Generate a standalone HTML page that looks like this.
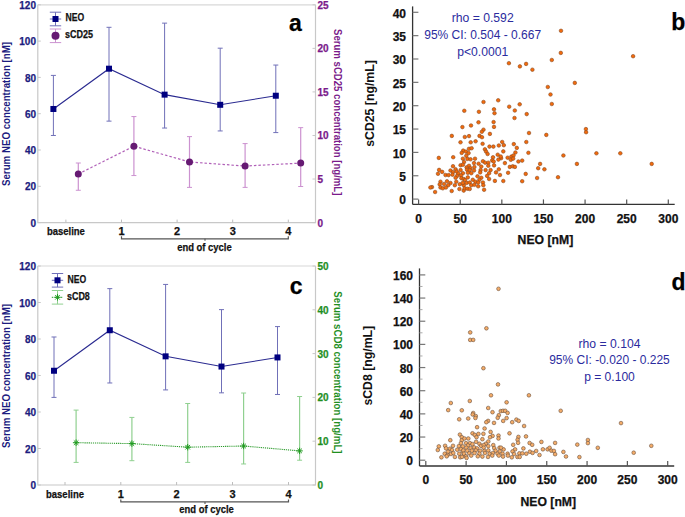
<!DOCTYPE html><html><head><meta charset="utf-8"><style>html,body{margin:0;padding:0;background:#fff;width:685px;height:517px;overflow:hidden}svg{display:block}text{font-family:"Liberation Sans", sans-serif}</style></head><body>
<svg width="685" height="517" viewBox="0 0 685 517">
<polyline points="37.8,4.8 37.8,222.6 315.5,222.6 315.5,4.8" fill="none" stroke="#c8c8c8" stroke-width="1.2"/>
<line x1="37.80" y1="4.80" x2="315.50" y2="4.80" stroke="#d8d8d8" stroke-width="1.2" />
<line x1="37.80" y1="222.60" x2="40.80" y2="222.60" stroke="#c8c8c8" stroke-width="1" />
<text x="36.00" y="226.70" font-size="10" fill="#1c1c80" text-anchor="end" font-weight="bold" stroke="#1c1c80" stroke-width="0.25" >0</text>
<line x1="37.80" y1="186.30" x2="40.80" y2="186.30" stroke="#c8c8c8" stroke-width="1" />
<text x="36.00" y="190.40" font-size="10" fill="#1c1c80" text-anchor="end" font-weight="bold" stroke="#1c1c80" stroke-width="0.25" >20</text>
<line x1="37.80" y1="150.00" x2="40.80" y2="150.00" stroke="#c8c8c8" stroke-width="1" />
<text x="36.00" y="154.10" font-size="10" fill="#1c1c80" text-anchor="end" font-weight="bold" stroke="#1c1c80" stroke-width="0.25" >40</text>
<line x1="37.80" y1="113.70" x2="40.80" y2="113.70" stroke="#c8c8c8" stroke-width="1" />
<text x="36.00" y="117.80" font-size="10" fill="#1c1c80" text-anchor="end" font-weight="bold" stroke="#1c1c80" stroke-width="0.25" >60</text>
<line x1="37.80" y1="77.40" x2="40.80" y2="77.40" stroke="#c8c8c8" stroke-width="1" />
<text x="36.00" y="81.50" font-size="10" fill="#1c1c80" text-anchor="end" font-weight="bold" stroke="#1c1c80" stroke-width="0.25" >80</text>
<line x1="37.80" y1="41.10" x2="40.80" y2="41.10" stroke="#c8c8c8" stroke-width="1" />
<text x="36.00" y="45.20" font-size="10" fill="#1c1c80" text-anchor="end" font-weight="bold" stroke="#1c1c80" stroke-width="0.25" >100</text>
<line x1="37.80" y1="4.80" x2="40.80" y2="4.80" stroke="#c8c8c8" stroke-width="1" />
<text x="36.00" y="8.90" font-size="10" fill="#1c1c80" text-anchor="end" font-weight="bold" stroke="#1c1c80" stroke-width="0.25" >120</text>
<line x1="312.50" y1="222.60" x2="315.50" y2="222.60" stroke="#c8c8c8" stroke-width="1" />
<text x="317.50" y="226.60" font-size="10" fill="#7a1a8a" text-anchor="start" font-weight="bold" stroke="#7a1a8a" stroke-width="0.25" >0</text>
<line x1="312.50" y1="179.04" x2="315.50" y2="179.04" stroke="#c8c8c8" stroke-width="1" />
<text x="317.50" y="183.04" font-size="10" fill="#7a1a8a" text-anchor="start" font-weight="bold" stroke="#7a1a8a" stroke-width="0.25" >5</text>
<line x1="312.50" y1="135.48" x2="315.50" y2="135.48" stroke="#c8c8c8" stroke-width="1" />
<text x="317.50" y="139.48" font-size="10" fill="#7a1a8a" text-anchor="start" font-weight="bold" stroke="#7a1a8a" stroke-width="0.25" >10</text>
<line x1="312.50" y1="91.92" x2="315.50" y2="91.92" stroke="#c8c8c8" stroke-width="1" />
<text x="317.50" y="95.92" font-size="10" fill="#7a1a8a" text-anchor="start" font-weight="bold" stroke="#7a1a8a" stroke-width="0.25" >15</text>
<line x1="312.50" y1="48.36" x2="315.50" y2="48.36" stroke="#c8c8c8" stroke-width="1" />
<text x="317.50" y="52.36" font-size="10" fill="#7a1a8a" text-anchor="start" font-weight="bold" stroke="#7a1a8a" stroke-width="0.25" >20</text>
<line x1="312.50" y1="4.80" x2="315.50" y2="4.80" stroke="#c8c8c8" stroke-width="1" />
<text x="317.50" y="8.80" font-size="10" fill="#7a1a8a" text-anchor="start" font-weight="bold" stroke="#7a1a8a" stroke-width="0.25" >25</text>
<line x1="65.90" y1="222.60" x2="65.90" y2="219.60" stroke="#bdbdbd" stroke-width="1" />
<line x1="121.50" y1="222.60" x2="121.50" y2="219.60" stroke="#bdbdbd" stroke-width="1" />
<line x1="177.10" y1="222.60" x2="177.10" y2="219.60" stroke="#bdbdbd" stroke-width="1" />
<line x1="232.70" y1="222.60" x2="232.70" y2="219.60" stroke="#bdbdbd" stroke-width="1" />
<line x1="288.30" y1="222.60" x2="288.30" y2="219.60" stroke="#bdbdbd" stroke-width="1" />
<text x="65.90" y="235.20" font-size="11" fill="#111" text-anchor="middle" font-weight="bold" textLength="38" lengthAdjust="spacingAndGlyphs" stroke="#111" stroke-width="0.25" >baseline</text>
<text x="121.50" y="235.20" font-size="11" fill="#111" text-anchor="middle" font-weight="bold" stroke="#111" stroke-width="0.25" >1</text>
<text x="177.10" y="235.20" font-size="11" fill="#111" text-anchor="middle" font-weight="bold" stroke="#111" stroke-width="0.25" >2</text>
<text x="232.70" y="235.20" font-size="11" fill="#111" text-anchor="middle" font-weight="bold" stroke="#111" stroke-width="0.25" >3</text>
<text x="288.30" y="235.20" font-size="11" fill="#111" text-anchor="middle" font-weight="bold" stroke="#111" stroke-width="0.25" >4</text>
<polyline points="121.5,236.29999999999998 121.5,238.79999999999998 288.3,238.79999999999998 288.3,236.29999999999998" fill="none" stroke="#555" stroke-width="1.2"/>
<line x1="205.00" y1="238.80" x2="205.00" y2="240.80" stroke="#555" stroke-width="1.1" />
<text x="204.40" y="250.80" font-size="11" fill="#111" text-anchor="middle" font-weight="bold" textLength="54.5" lengthAdjust="spacingAndGlyphs" stroke="#111" stroke-width="0.25" >end of cycle</text>
<text x="0" y="0" transform="translate(10.3,114.00) rotate(-90)" font-size="11" fill="#1c1c80" text-anchor="middle" font-weight="bold" textLength="144" lengthAdjust="spacingAndGlyphs">Serum NEO concentration [nM]</text>
<text x="0" y="0" transform="translate(333.6,112.20) rotate(90)" font-size="11" fill="#7a1a8a" text-anchor="middle" font-weight="bold" textLength="166.4" lengthAdjust="spacingAndGlyphs">Serum sCD25 concentration [ng/mL]</text>
<line x1="53.40" y1="135.48" x2="53.40" y2="75.40" stroke="#7070b8" stroke-width="1" />
<line x1="50.90" y1="135.48" x2="55.90" y2="135.48" stroke="#7070b8" stroke-width="1" />
<line x1="50.90" y1="75.40" x2="55.90" y2="75.40" stroke="#7070b8" stroke-width="1" />
<line x1="109.00" y1="121.14" x2="109.00" y2="27.31" stroke="#7070b8" stroke-width="1" />
<line x1="106.50" y1="121.14" x2="111.50" y2="121.14" stroke="#7070b8" stroke-width="1" />
<line x1="106.50" y1="27.31" x2="111.50" y2="27.31" stroke="#7070b8" stroke-width="1" />
<line x1="164.60" y1="128.04" x2="164.60" y2="23.13" stroke="#7070b8" stroke-width="1" />
<line x1="162.10" y1="128.04" x2="167.10" y2="128.04" stroke="#7070b8" stroke-width="1" />
<line x1="162.10" y1="23.13" x2="167.10" y2="23.13" stroke="#7070b8" stroke-width="1" />
<line x1="220.20" y1="130.94" x2="220.20" y2="48.18" stroke="#7070b8" stroke-width="1" />
<line x1="217.70" y1="130.94" x2="222.70" y2="130.94" stroke="#7070b8" stroke-width="1" />
<line x1="217.70" y1="48.18" x2="222.70" y2="48.18" stroke="#7070b8" stroke-width="1" />
<line x1="275.80" y1="132.58" x2="275.80" y2="65.06" stroke="#7070b8" stroke-width="1" />
<line x1="273.30" y1="132.58" x2="278.30" y2="132.58" stroke="#7070b8" stroke-width="1" />
<line x1="273.30" y1="65.06" x2="278.30" y2="65.06" stroke="#7070b8" stroke-width="1" />
<polyline points="53.40,108.98 109.00,68.69 164.60,94.64 220.20,104.81 275.80,95.73" fill="none" stroke="#2a2a90" stroke-width="1.1"/>
<rect x="50.40" y="105.98" width="6" height="6" fill="#000080"/>
<rect x="106.00" y="65.69" width="6" height="6" fill="#000080"/>
<rect x="161.60" y="91.64" width="6" height="6" fill="#000080"/>
<rect x="217.20" y="101.81" width="6" height="6" fill="#000080"/>
<rect x="272.80" y="92.73" width="6" height="6" fill="#000080"/>
<line x1="78.30" y1="190.28" x2="78.30" y2="163.01" stroke="#cc92d0" stroke-width="1.2" />
<line x1="75.80" y1="190.28" x2="80.80" y2="190.28" stroke="#cc92d0" stroke-width="1" />
<line x1="75.80" y1="163.01" x2="80.80" y2="163.01" stroke="#cc92d0" stroke-width="1" />
<line x1="133.90" y1="175.56" x2="133.90" y2="116.57" stroke="#cc92d0" stroke-width="1.2" />
<line x1="131.40" y1="175.56" x2="136.40" y2="175.56" stroke="#cc92d0" stroke-width="1" />
<line x1="131.40" y1="116.57" x2="136.40" y2="116.57" stroke="#cc92d0" stroke-width="1" />
<line x1="189.50" y1="187.40" x2="189.50" y2="136.61" stroke="#cc92d0" stroke-width="1.2" />
<line x1="187.00" y1="187.40" x2="192.00" y2="187.40" stroke="#cc92d0" stroke-width="1" />
<line x1="187.00" y1="136.61" x2="192.00" y2="136.61" stroke="#cc92d0" stroke-width="1" />
<line x1="245.10" y1="187.40" x2="245.10" y2="143.58" stroke="#cc92d0" stroke-width="1.2" />
<line x1="242.60" y1="187.40" x2="247.60" y2="187.40" stroke="#cc92d0" stroke-width="1" />
<line x1="242.60" y1="143.58" x2="247.60" y2="143.58" stroke="#cc92d0" stroke-width="1" />
<line x1="300.70" y1="186.53" x2="300.70" y2="127.64" stroke="#cc92d0" stroke-width="1.2" />
<line x1="298.20" y1="186.53" x2="303.20" y2="186.53" stroke="#cc92d0" stroke-width="1" />
<line x1="298.20" y1="127.64" x2="303.20" y2="127.64" stroke="#cc92d0" stroke-width="1" />
<polyline points="78.30,173.99 133.90,146.20 189.50,161.96 245.10,166.06 300.70,163.10" fill="none" stroke="#b060b8" stroke-width="1.2" stroke-dasharray="2.5,2"/>
<circle cx="78.30" cy="173.99" r="3.5" fill="#661a73"/>
<circle cx="133.90" cy="146.20" r="3.5" fill="#661a73"/>
<circle cx="189.50" cy="161.96" r="3.5" fill="#661a73"/>
<circle cx="245.10" cy="166.06" r="3.5" fill="#661a73"/>
<circle cx="300.70" cy="163.10" r="3.5" fill="#661a73"/>
<text x="295.30" y="31.10" font-size="23" fill="#000" text-anchor="middle" font-weight="bold" stroke="#000" stroke-width="0.25" >a</text>
<line x1="55.50" y1="12.20" x2="55.50" y2="25.80" stroke="#7070b8" stroke-width="1" />
<line x1="49.80" y1="12.20" x2="61.20" y2="12.20" stroke="#7070b8" stroke-width="1" />
<line x1="49.80" y1="25.80" x2="61.20" y2="25.80" stroke="#7070b8" stroke-width="1" />
<line x1="49.80" y1="19.00" x2="61.20" y2="19.00" stroke="#7070b8" stroke-width="1" />
<rect x="52.50" y="16.00" width="6" height="6" fill="#000080"/>
<text x="65.50" y="21.20" font-size="10.5" fill="#111" text-anchor="start" font-weight="bold" textLength="18.7" lengthAdjust="spacingAndGlyphs" stroke="#111" stroke-width="0.25" >NEO</text>
<line x1="55.50" y1="29.00" x2="55.50" y2="42.60" stroke="#cc92d0" stroke-width="1" />
<line x1="49.80" y1="29.00" x2="61.20" y2="29.00" stroke="#cc92d0" stroke-width="1" />
<line x1="49.80" y1="42.60" x2="61.20" y2="42.60" stroke="#cc92d0" stroke-width="1" />
<circle cx="55.50" cy="35.80" r="4" fill="#661a73"/>
<text x="65.00" y="38.20" font-size="10.5" fill="#111" text-anchor="start" font-weight="bold" textLength="28" lengthAdjust="spacingAndGlyphs" stroke="#111" stroke-width="0.25" >sCD25</text>
<polyline points="37.8,266.0 37.8,485.0 315.5,485.0 315.5,266.0" fill="none" stroke="#c8c8c8" stroke-width="1.2"/>
<line x1="37.80" y1="266.00" x2="315.50" y2="266.00" stroke="#d8d8d8" stroke-width="1.2" />
<line x1="37.80" y1="485.00" x2="40.80" y2="485.00" stroke="#c8c8c8" stroke-width="1" />
<text x="36.00" y="489.10" font-size="10" fill="#1c1c80" text-anchor="end" font-weight="bold" stroke="#1c1c80" stroke-width="0.25" >0</text>
<line x1="37.80" y1="448.50" x2="40.80" y2="448.50" stroke="#c8c8c8" stroke-width="1" />
<text x="36.00" y="452.60" font-size="10" fill="#1c1c80" text-anchor="end" font-weight="bold" stroke="#1c1c80" stroke-width="0.25" >20</text>
<line x1="37.80" y1="412.00" x2="40.80" y2="412.00" stroke="#c8c8c8" stroke-width="1" />
<text x="36.00" y="416.10" font-size="10" fill="#1c1c80" text-anchor="end" font-weight="bold" stroke="#1c1c80" stroke-width="0.25" >40</text>
<line x1="37.80" y1="375.50" x2="40.80" y2="375.50" stroke="#c8c8c8" stroke-width="1" />
<text x="36.00" y="379.60" font-size="10" fill="#1c1c80" text-anchor="end" font-weight="bold" stroke="#1c1c80" stroke-width="0.25" >60</text>
<line x1="37.80" y1="339.00" x2="40.80" y2="339.00" stroke="#c8c8c8" stroke-width="1" />
<text x="36.00" y="343.10" font-size="10" fill="#1c1c80" text-anchor="end" font-weight="bold" stroke="#1c1c80" stroke-width="0.25" >80</text>
<line x1="37.80" y1="302.50" x2="40.80" y2="302.50" stroke="#c8c8c8" stroke-width="1" />
<text x="36.00" y="306.60" font-size="10" fill="#1c1c80" text-anchor="end" font-weight="bold" stroke="#1c1c80" stroke-width="0.25" >100</text>
<line x1="37.80" y1="266.00" x2="40.80" y2="266.00" stroke="#c8c8c8" stroke-width="1" />
<text x="36.00" y="270.10" font-size="10" fill="#1c1c80" text-anchor="end" font-weight="bold" stroke="#1c1c80" stroke-width="0.25" >120</text>
<line x1="312.50" y1="485.00" x2="315.50" y2="485.00" stroke="#c8c8c8" stroke-width="1" />
<text x="317.50" y="489.00" font-size="10" fill="#1f8f1f" text-anchor="start" font-weight="bold" stroke="#1f8f1f" stroke-width="0.25" >0</text>
<line x1="312.50" y1="441.20" x2="315.50" y2="441.20" stroke="#c8c8c8" stroke-width="1" />
<text x="317.50" y="445.20" font-size="10" fill="#1f8f1f" text-anchor="start" font-weight="bold" stroke="#1f8f1f" stroke-width="0.25" >10</text>
<line x1="312.50" y1="397.40" x2="315.50" y2="397.40" stroke="#c8c8c8" stroke-width="1" />
<text x="317.50" y="401.40" font-size="10" fill="#1f8f1f" text-anchor="start" font-weight="bold" stroke="#1f8f1f" stroke-width="0.25" >20</text>
<line x1="312.50" y1="353.60" x2="315.50" y2="353.60" stroke="#c8c8c8" stroke-width="1" />
<text x="317.50" y="357.60" font-size="10" fill="#1f8f1f" text-anchor="start" font-weight="bold" stroke="#1f8f1f" stroke-width="0.25" >30</text>
<line x1="312.50" y1="309.80" x2="315.50" y2="309.80" stroke="#c8c8c8" stroke-width="1" />
<text x="317.50" y="313.80" font-size="10" fill="#1f8f1f" text-anchor="start" font-weight="bold" stroke="#1f8f1f" stroke-width="0.25" >40</text>
<line x1="312.50" y1="266.00" x2="315.50" y2="266.00" stroke="#c8c8c8" stroke-width="1" />
<text x="317.50" y="270.00" font-size="10" fill="#1f8f1f" text-anchor="start" font-weight="bold" stroke="#1f8f1f" stroke-width="0.25" >50</text>
<line x1="65.00" y1="485.00" x2="65.00" y2="482.00" stroke="#bdbdbd" stroke-width="1" />
<line x1="120.80" y1="485.00" x2="120.80" y2="482.00" stroke="#bdbdbd" stroke-width="1" />
<line x1="176.60" y1="485.00" x2="176.60" y2="482.00" stroke="#bdbdbd" stroke-width="1" />
<line x1="232.50" y1="485.00" x2="232.50" y2="482.00" stroke="#bdbdbd" stroke-width="1" />
<line x1="288.50" y1="485.00" x2="288.50" y2="482.00" stroke="#bdbdbd" stroke-width="1" />
<text x="65.00" y="497.50" font-size="11" fill="#111" text-anchor="middle" font-weight="bold" textLength="38" lengthAdjust="spacingAndGlyphs" stroke="#111" stroke-width="0.25" >baseline</text>
<text x="120.80" y="497.50" font-size="11" fill="#111" text-anchor="middle" font-weight="bold" stroke="#111" stroke-width="0.25" >1</text>
<text x="176.60" y="497.50" font-size="11" fill="#111" text-anchor="middle" font-weight="bold" stroke="#111" stroke-width="0.25" >2</text>
<text x="232.50" y="497.50" font-size="11" fill="#111" text-anchor="middle" font-weight="bold" stroke="#111" stroke-width="0.25" >3</text>
<text x="288.50" y="497.50" font-size="11" fill="#111" text-anchor="middle" font-weight="bold" stroke="#111" stroke-width="0.25" >4</text>
<polyline points="120.8,499.4 120.8,501.9 288.5,501.9 288.5,499.4" fill="none" stroke="#555" stroke-width="1.2"/>
<line x1="205.00" y1="501.90" x2="205.00" y2="503.90" stroke="#555" stroke-width="1.1" />
<text x="206.50" y="513.20" font-size="11" fill="#111" text-anchor="middle" font-weight="bold" textLength="54.5" lengthAdjust="spacingAndGlyphs" stroke="#111" stroke-width="0.25" >end of cycle</text>
<text x="0" y="0" transform="translate(10.3,375.90) rotate(-90)" font-size="11" fill="#1c1c80" text-anchor="middle" font-weight="bold" textLength="144" lengthAdjust="spacingAndGlyphs">Serum NEO concentration [nM]</text>
<text x="0" y="0" transform="translate(333.6,372.40) rotate(90)" font-size="11" fill="#1f8f1f" text-anchor="middle" font-weight="bold" textLength="162.2" lengthAdjust="spacingAndGlyphs">Serum sCD8 concentration [ng/mL]</text>
<line x1="54.00" y1="397.40" x2="54.00" y2="336.99" stroke="#7070b8" stroke-width="1" />
<line x1="51.50" y1="397.40" x2="56.50" y2="397.40" stroke="#7070b8" stroke-width="1" />
<line x1="51.50" y1="336.99" x2="56.50" y2="336.99" stroke="#7070b8" stroke-width="1" />
<line x1="109.80" y1="382.98" x2="109.80" y2="288.63" stroke="#7070b8" stroke-width="1" />
<line x1="107.30" y1="382.98" x2="112.30" y2="382.98" stroke="#7070b8" stroke-width="1" />
<line x1="107.30" y1="288.63" x2="112.30" y2="288.63" stroke="#7070b8" stroke-width="1" />
<line x1="165.60" y1="389.92" x2="165.60" y2="284.43" stroke="#7070b8" stroke-width="1" />
<line x1="163.10" y1="389.92" x2="168.10" y2="389.92" stroke="#7070b8" stroke-width="1" />
<line x1="163.10" y1="284.43" x2="168.10" y2="284.43" stroke="#7070b8" stroke-width="1" />
<line x1="221.50" y1="392.84" x2="221.50" y2="309.62" stroke="#7070b8" stroke-width="1" />
<line x1="219.00" y1="392.84" x2="224.00" y2="392.84" stroke="#7070b8" stroke-width="1" />
<line x1="219.00" y1="309.62" x2="224.00" y2="309.62" stroke="#7070b8" stroke-width="1" />
<line x1="277.50" y1="394.48" x2="277.50" y2="326.59" stroke="#7070b8" stroke-width="1" />
<line x1="275.00" y1="394.48" x2="280.00" y2="394.48" stroke="#7070b8" stroke-width="1" />
<line x1="275.00" y1="326.59" x2="280.00" y2="326.59" stroke="#7070b8" stroke-width="1" />
<polyline points="54.00,370.75 109.80,330.24 165.60,356.34 221.50,366.56 277.50,357.43" fill="none" stroke="#2a2a90" stroke-width="1.1"/>
<rect x="51.00" y="367.75" width="6" height="6" fill="#000080"/>
<rect x="106.80" y="327.24" width="6" height="6" fill="#000080"/>
<rect x="162.60" y="353.34" width="6" height="6" fill="#000080"/>
<rect x="218.50" y="363.56" width="6" height="6" fill="#000080"/>
<rect x="274.50" y="354.43" width="6" height="6" fill="#000080"/>
<line x1="76.10" y1="462.40" x2="76.10" y2="410.10" stroke="#90d090" stroke-width="1.2" />
<line x1="73.60" y1="462.40" x2="78.60" y2="462.40" stroke="#90d090" stroke-width="1" />
<line x1="73.60" y1="410.10" x2="78.60" y2="410.10" stroke="#90d090" stroke-width="1" />
<line x1="131.90" y1="460.69" x2="131.90" y2="417.42" stroke="#90d090" stroke-width="1.2" />
<line x1="129.40" y1="460.69" x2="134.40" y2="460.69" stroke="#90d090" stroke-width="1" />
<line x1="129.40" y1="417.42" x2="134.40" y2="417.42" stroke="#90d090" stroke-width="1" />
<line x1="187.70" y1="462.40" x2="187.70" y2="403.49" stroke="#90d090" stroke-width="1.2" />
<line x1="185.20" y1="462.40" x2="190.20" y2="462.40" stroke="#90d090" stroke-width="1" />
<line x1="185.20" y1="403.49" x2="190.20" y2="403.49" stroke="#90d090" stroke-width="1" />
<line x1="243.60" y1="463.98" x2="243.60" y2="393.02" stroke="#90d090" stroke-width="1.2" />
<line x1="241.10" y1="463.98" x2="246.10" y2="463.98" stroke="#90d090" stroke-width="1" />
<line x1="241.10" y1="393.02" x2="246.10" y2="393.02" stroke="#90d090" stroke-width="1" />
<line x1="299.60" y1="460.21" x2="299.60" y2="396.52" stroke="#90d090" stroke-width="1.2" />
<line x1="297.10" y1="460.21" x2="302.10" y2="460.21" stroke="#90d090" stroke-width="1" />
<line x1="297.10" y1="396.52" x2="302.10" y2="396.52" stroke="#90d090" stroke-width="1" />
<polyline points="76.10,442.69 131.90,443.61 187.70,447.20 243.60,446.02 299.60,450.88" fill="none" stroke="#2a9a2a" stroke-width="1.1" stroke-dasharray="1.2,0.9"/>
<line x1="72.90" y1="442.69" x2="79.30" y2="442.69" stroke="#1f9a1f" stroke-width="1" />
<line x1="73.84" y1="440.43" x2="78.36" y2="444.95" stroke="#1f9a1f" stroke-width="1" />
<line x1="76.10" y1="439.49" x2="76.10" y2="445.89" stroke="#1f9a1f" stroke-width="1" />
<line x1="78.36" y1="440.43" x2="73.84" y2="444.95" stroke="#1f9a1f" stroke-width="1" />
<line x1="128.70" y1="443.61" x2="135.10" y2="443.61" stroke="#1f9a1f" stroke-width="1" />
<line x1="129.64" y1="441.35" x2="134.16" y2="445.87" stroke="#1f9a1f" stroke-width="1" />
<line x1="131.90" y1="440.41" x2="131.90" y2="446.81" stroke="#1f9a1f" stroke-width="1" />
<line x1="134.16" y1="441.35" x2="129.64" y2="445.87" stroke="#1f9a1f" stroke-width="1" />
<line x1="184.50" y1="447.20" x2="190.90" y2="447.20" stroke="#1f9a1f" stroke-width="1" />
<line x1="185.44" y1="444.94" x2="189.96" y2="449.46" stroke="#1f9a1f" stroke-width="1" />
<line x1="187.70" y1="444.00" x2="187.70" y2="450.40" stroke="#1f9a1f" stroke-width="1" />
<line x1="189.96" y1="444.94" x2="185.44" y2="449.46" stroke="#1f9a1f" stroke-width="1" />
<line x1="240.40" y1="446.02" x2="246.80" y2="446.02" stroke="#1f9a1f" stroke-width="1" />
<line x1="241.34" y1="443.76" x2="245.86" y2="448.28" stroke="#1f9a1f" stroke-width="1" />
<line x1="243.60" y1="442.82" x2="243.60" y2="449.22" stroke="#1f9a1f" stroke-width="1" />
<line x1="245.86" y1="443.76" x2="241.34" y2="448.28" stroke="#1f9a1f" stroke-width="1" />
<line x1="296.40" y1="450.88" x2="302.80" y2="450.88" stroke="#1f9a1f" stroke-width="1" />
<line x1="297.34" y1="448.62" x2="301.86" y2="453.14" stroke="#1f9a1f" stroke-width="1" />
<line x1="299.60" y1="447.68" x2="299.60" y2="454.08" stroke="#1f9a1f" stroke-width="1" />
<line x1="301.86" y1="448.62" x2="297.34" y2="453.14" stroke="#1f9a1f" stroke-width="1" />
<text x="296.10" y="294.00" font-size="23" fill="#000" text-anchor="middle" font-weight="bold" stroke="#000" stroke-width="0.25" >c</text>
<line x1="57.50" y1="273.50" x2="57.50" y2="287.10" stroke="#7070b8" stroke-width="1" />
<line x1="51.80" y1="273.50" x2="63.20" y2="273.50" stroke="#7070b8" stroke-width="1" />
<line x1="51.80" y1="287.10" x2="63.20" y2="287.10" stroke="#7070b8" stroke-width="1" />
<line x1="51.80" y1="280.30" x2="63.20" y2="280.30" stroke="#7070b8" stroke-width="1" />
<rect x="54.50" y="277.30" width="6" height="6" fill="#000080"/>
<text x="67.50" y="282.50" font-size="10.5" fill="#111" text-anchor="start" font-weight="bold" textLength="18.7" lengthAdjust="spacingAndGlyphs" stroke="#111" stroke-width="0.25" >NEO</text>
<line x1="57.50" y1="290.50" x2="57.50" y2="304.10" stroke="#90d090" stroke-width="1" />
<line x1="51.80" y1="290.50" x2="63.20" y2="290.50" stroke="#90d090" stroke-width="1" />
<line x1="51.80" y1="304.10" x2="63.20" y2="304.10" stroke="#90d090" stroke-width="1" />
<line x1="51.80" y1="297.30" x2="63.20" y2="297.30" stroke="#2a9a2a" stroke-width="1" stroke-dasharray="1.5,1.5"/>
<line x1="54.30" y1="297.30" x2="60.70" y2="297.30" stroke="#1f9a1f" stroke-width="1" />
<line x1="55.24" y1="295.04" x2="59.76" y2="299.56" stroke="#1f9a1f" stroke-width="1" />
<line x1="57.50" y1="294.10" x2="57.50" y2="300.50" stroke="#1f9a1f" stroke-width="1" />
<line x1="59.76" y1="295.04" x2="55.24" y2="299.56" stroke="#1f9a1f" stroke-width="1" />
<text x="67.00" y="299.50" font-size="10.5" fill="#111" text-anchor="start" font-weight="bold" textLength="22.8" lengthAdjust="spacingAndGlyphs" stroke="#111" stroke-width="0.25" >sCD8</text>
<line x1="412.60" y1="6.40" x2="412.60" y2="204.40" stroke="#333" stroke-width="1.3" />
<line x1="412.60" y1="204.40" x2="674.70" y2="204.40" stroke="#333" stroke-width="1.3" />
<line x1="412.60" y1="199.10" x2="418.40" y2="199.10" stroke="#777" stroke-width="1.2" />
<text x="406.00" y="204.30" font-size="12" fill="#111" text-anchor="end" font-weight="bold" stroke="#111" stroke-width="0.25" >0</text>
<line x1="412.60" y1="175.75" x2="418.40" y2="175.75" stroke="#777" stroke-width="1.2" />
<text x="406.00" y="180.95" font-size="12" fill="#111" text-anchor="end" font-weight="bold" stroke="#111" stroke-width="0.25" >5</text>
<line x1="412.60" y1="152.40" x2="418.40" y2="152.40" stroke="#777" stroke-width="1.2" />
<text x="406.00" y="157.60" font-size="12" fill="#111" text-anchor="end" font-weight="bold" stroke="#111" stroke-width="0.25" >10</text>
<line x1="412.60" y1="129.05" x2="418.40" y2="129.05" stroke="#777" stroke-width="1.2" />
<text x="406.00" y="134.25" font-size="12" fill="#111" text-anchor="end" font-weight="bold" stroke="#111" stroke-width="0.25" >15</text>
<line x1="412.60" y1="105.70" x2="418.40" y2="105.70" stroke="#777" stroke-width="1.2" />
<text x="406.00" y="110.90" font-size="12" fill="#111" text-anchor="end" font-weight="bold" stroke="#111" stroke-width="0.25" >20</text>
<line x1="412.60" y1="82.35" x2="418.40" y2="82.35" stroke="#777" stroke-width="1.2" />
<text x="406.00" y="87.55" font-size="12" fill="#111" text-anchor="end" font-weight="bold" stroke="#111" stroke-width="0.25" >25</text>
<line x1="412.60" y1="59.00" x2="418.40" y2="59.00" stroke="#777" stroke-width="1.2" />
<text x="406.00" y="64.20" font-size="12" fill="#111" text-anchor="end" font-weight="bold" stroke="#111" stroke-width="0.25" >30</text>
<line x1="412.60" y1="35.65" x2="418.40" y2="35.65" stroke="#777" stroke-width="1.2" />
<text x="406.00" y="40.85" font-size="12" fill="#111" text-anchor="end" font-weight="bold" stroke="#111" stroke-width="0.25" >35</text>
<line x1="412.60" y1="12.30" x2="418.40" y2="12.30" stroke="#777" stroke-width="1.2" />
<text x="406.00" y="17.50" font-size="12" fill="#111" text-anchor="end" font-weight="bold" stroke="#111" stroke-width="0.25" >40</text>
<line x1="418.60" y1="204.40" x2="418.60" y2="199.40" stroke="#555" stroke-width="1.2" />
<text x="418.60" y="223.20" font-size="12" fill="#111" text-anchor="middle" font-weight="bold" stroke="#111" stroke-width="0.25" >0</text>
<line x1="460.22" y1="204.40" x2="460.22" y2="199.40" stroke="#555" stroke-width="1.2" />
<text x="460.22" y="223.20" font-size="12" fill="#111" text-anchor="middle" font-weight="bold" stroke="#111" stroke-width="0.25" >50</text>
<line x1="501.83" y1="204.40" x2="501.83" y2="199.40" stroke="#555" stroke-width="1.2" />
<text x="501.83" y="223.20" font-size="12" fill="#111" text-anchor="middle" font-weight="bold" stroke="#111" stroke-width="0.25" >100</text>
<line x1="543.45" y1="204.40" x2="543.45" y2="199.40" stroke="#555" stroke-width="1.2" />
<text x="543.45" y="223.20" font-size="12" fill="#111" text-anchor="middle" font-weight="bold" stroke="#111" stroke-width="0.25" >150</text>
<line x1="585.07" y1="204.40" x2="585.07" y2="199.40" stroke="#555" stroke-width="1.2" />
<text x="585.07" y="223.20" font-size="12" fill="#111" text-anchor="middle" font-weight="bold" stroke="#111" stroke-width="0.25" >200</text>
<line x1="626.68" y1="204.40" x2="626.68" y2="199.40" stroke="#555" stroke-width="1.2" />
<text x="626.68" y="223.20" font-size="12" fill="#111" text-anchor="middle" font-weight="bold" stroke="#111" stroke-width="0.25" >250</text>
<line x1="668.30" y1="204.40" x2="668.30" y2="199.40" stroke="#555" stroke-width="1.2" />
<text x="668.30" y="223.20" font-size="12" fill="#111" text-anchor="middle" font-weight="bold" stroke="#111" stroke-width="0.25" >300</text>
<text x="0" y="0" transform="translate(373.60,103.50) rotate(-90)" font-size="12" fill="#111" text-anchor="middle" font-weight="bold" textLength="86.6" lengthAdjust="spacingAndGlyphs">sCD25 [ng/mL]</text>
<text x="545.40" y="244.20" font-size="12" fill="#111" text-anchor="middle" font-weight="bold" textLength="55.6" lengthAdjust="spacingAndGlyphs" stroke="#111" stroke-width="0.25" >NEO [nM]</text>
<circle cx="508.9" cy="63.2" r="1.8" fill="#f26a0c" stroke="#8a4a20" stroke-width="0.6"/>
<circle cx="519.9" cy="66.4" r="1.8" fill="#f26a0c" stroke="#8a4a20" stroke-width="0.6"/>
<circle cx="526.1" cy="63.9" r="1.8" fill="#f26a0c" stroke="#8a4a20" stroke-width="0.6"/>
<circle cx="532.4" cy="69.7" r="1.8" fill="#f26a0c" stroke="#8a4a20" stroke-width="0.6"/>
<circle cx="483.5" cy="102.0" r="1.8" fill="#f26a0c" stroke="#8a4a20" stroke-width="0.6"/>
<circle cx="498.2" cy="100.3" r="1.8" fill="#f26a0c" stroke="#8a4a20" stroke-width="0.6"/>
<circle cx="464.3" cy="110.8" r="1.8" fill="#f26a0c" stroke="#8a4a20" stroke-width="0.6"/>
<circle cx="478.9" cy="111.8" r="1.8" fill="#f26a0c" stroke="#8a4a20" stroke-width="0.6"/>
<circle cx="494.0" cy="109.3" r="1.8" fill="#f26a0c" stroke="#8a4a20" stroke-width="0.6"/>
<circle cx="494.5" cy="113.2" r="1.8" fill="#f26a0c" stroke="#8a4a20" stroke-width="0.6"/>
<circle cx="509.2" cy="106.7" r="1.8" fill="#f26a0c" stroke="#8a4a20" stroke-width="0.6"/>
<circle cx="519.7" cy="104.3" r="1.8" fill="#f26a0c" stroke="#8a4a20" stroke-width="0.6"/>
<circle cx="514.8" cy="110.5" r="1.8" fill="#f26a0c" stroke="#8a4a20" stroke-width="0.6"/>
<circle cx="526.7" cy="114.1" r="1.8" fill="#f26a0c" stroke="#8a4a20" stroke-width="0.6"/>
<circle cx="514.5" cy="118.0" r="1.8" fill="#f26a0c" stroke="#8a4a20" stroke-width="0.6"/>
<circle cx="462.4" cy="127.1" r="1.8" fill="#f26a0c" stroke="#8a4a20" stroke-width="0.6"/>
<circle cx="471.0" cy="125.5" r="1.8" fill="#f26a0c" stroke="#8a4a20" stroke-width="0.6"/>
<circle cx="478.5" cy="122.3" r="1.8" fill="#f26a0c" stroke="#8a4a20" stroke-width="0.6"/>
<circle cx="493.6" cy="122.1" r="1.8" fill="#f26a0c" stroke="#8a4a20" stroke-width="0.6"/>
<circle cx="494.0" cy="126.9" r="1.8" fill="#f26a0c" stroke="#8a4a20" stroke-width="0.6"/>
<circle cx="483.5" cy="129.7" r="1.8" fill="#f26a0c" stroke="#8a4a20" stroke-width="0.6"/>
<circle cx="561.0" cy="30.8" r="1.8" fill="#f26a0c" stroke="#8a4a20" stroke-width="0.6"/>
<circle cx="560.8" cy="52.9" r="1.8" fill="#f26a0c" stroke="#8a4a20" stroke-width="0.6"/>
<circle cx="551.8" cy="60.0" r="1.8" fill="#f26a0c" stroke="#8a4a20" stroke-width="0.6"/>
<circle cx="633.1" cy="56.2" r="1.8" fill="#f26a0c" stroke="#8a4a20" stroke-width="0.6"/>
<circle cx="574.8" cy="82.9" r="1.8" fill="#f26a0c" stroke="#8a4a20" stroke-width="0.6"/>
<circle cx="547.8" cy="87.0" r="1.8" fill="#f26a0c" stroke="#8a4a20" stroke-width="0.6"/>
<circle cx="550.5" cy="94.5" r="1.8" fill="#f26a0c" stroke="#8a4a20" stroke-width="0.6"/>
<circle cx="551.8" cy="104.0" r="1.8" fill="#f26a0c" stroke="#8a4a20" stroke-width="0.6"/>
<circle cx="585.9" cy="129.1" r="1.8" fill="#f26a0c" stroke="#8a4a20" stroke-width="0.6"/>
<circle cx="586.1" cy="132.2" r="1.8" fill="#f26a0c" stroke="#8a4a20" stroke-width="0.6"/>
<circle cx="529.0" cy="133.0" r="1.8" fill="#f26a0c" stroke="#8a4a20" stroke-width="0.6"/>
<circle cx="546.3" cy="134.9" r="1.8" fill="#f26a0c" stroke="#8a4a20" stroke-width="0.6"/>
<circle cx="502.2" cy="142.0" r="1.8" fill="#f26a0c" stroke="#8a4a20" stroke-width="0.6"/>
<circle cx="503.8" cy="145.2" r="1.8" fill="#f26a0c" stroke="#8a4a20" stroke-width="0.6"/>
<circle cx="526.3" cy="142.0" r="1.8" fill="#f26a0c" stroke="#8a4a20" stroke-width="0.6"/>
<circle cx="513.8" cy="144.1" r="1.8" fill="#f26a0c" stroke="#8a4a20" stroke-width="0.6"/>
<circle cx="516.8" cy="147.9" r="1.8" fill="#f26a0c" stroke="#8a4a20" stroke-width="0.6"/>
<circle cx="503.3" cy="151.4" r="1.8" fill="#f26a0c" stroke="#8a4a20" stroke-width="0.6"/>
<circle cx="515.4" cy="152.5" r="1.8" fill="#f26a0c" stroke="#8a4a20" stroke-width="0.6"/>
<circle cx="528.4" cy="152.8" r="1.8" fill="#f26a0c" stroke="#8a4a20" stroke-width="0.6"/>
<circle cx="596.4" cy="153.3" r="1.8" fill="#f26a0c" stroke="#8a4a20" stroke-width="0.6"/>
<circle cx="620.3" cy="153.3" r="1.8" fill="#f26a0c" stroke="#8a4a20" stroke-width="0.6"/>
<circle cx="563.4" cy="155.5" r="1.8" fill="#f26a0c" stroke="#8a4a20" stroke-width="0.6"/>
<circle cx="501.1" cy="158.2" r="1.8" fill="#f26a0c" stroke="#8a4a20" stroke-width="0.6"/>
<circle cx="507.6" cy="157.7" r="1.8" fill="#f26a0c" stroke="#8a4a20" stroke-width="0.6"/>
<circle cx="511.4" cy="156.6" r="1.8" fill="#f26a0c" stroke="#8a4a20" stroke-width="0.6"/>
<circle cx="513.5" cy="155.5" r="1.8" fill="#f26a0c" stroke="#8a4a20" stroke-width="0.6"/>
<circle cx="510.8" cy="159.8" r="1.8" fill="#f26a0c" stroke="#8a4a20" stroke-width="0.6"/>
<circle cx="518.4" cy="161.5" r="1.8" fill="#f26a0c" stroke="#8a4a20" stroke-width="0.6"/>
<circle cx="522.2" cy="160.6" r="1.8" fill="#f26a0c" stroke="#8a4a20" stroke-width="0.6"/>
<circle cx="504.9" cy="163.1" r="1.8" fill="#f26a0c" stroke="#8a4a20" stroke-width="0.6"/>
<circle cx="509.8" cy="166.9" r="1.8" fill="#f26a0c" stroke="#8a4a20" stroke-width="0.6"/>
<circle cx="512.7" cy="166.3" r="1.8" fill="#f26a0c" stroke="#8a4a20" stroke-width="0.6"/>
<circle cx="514.9" cy="166.9" r="1.8" fill="#f26a0c" stroke="#8a4a20" stroke-width="0.6"/>
<circle cx="540.1" cy="163.9" r="1.8" fill="#f26a0c" stroke="#8a4a20" stroke-width="0.6"/>
<circle cx="576.9" cy="163.9" r="1.8" fill="#f26a0c" stroke="#8a4a20" stroke-width="0.6"/>
<circle cx="651.7" cy="163.9" r="1.8" fill="#f26a0c" stroke="#8a4a20" stroke-width="0.6"/>
<circle cx="538.2" cy="168.2" r="1.8" fill="#f26a0c" stroke="#8a4a20" stroke-width="0.6"/>
<circle cx="544.4" cy="169.3" r="1.8" fill="#f26a0c" stroke="#8a4a20" stroke-width="0.6"/>
<circle cx="508.1" cy="172.8" r="1.8" fill="#f26a0c" stroke="#8a4a20" stroke-width="0.6"/>
<circle cx="525.7" cy="173.9" r="1.8" fill="#f26a0c" stroke="#8a4a20" stroke-width="0.6"/>
<circle cx="500.0" cy="175.0" r="1.8" fill="#f26a0c" stroke="#8a4a20" stroke-width="0.6"/>
<circle cx="503.3" cy="181.0" r="1.8" fill="#f26a0c" stroke="#8a4a20" stroke-width="0.6"/>
<circle cx="522.2" cy="181.2" r="1.8" fill="#f26a0c" stroke="#8a4a20" stroke-width="0.6"/>
<circle cx="537.1" cy="178.0" r="1.8" fill="#f26a0c" stroke="#8a4a20" stroke-width="0.6"/>
<circle cx="558.0" cy="177.2" r="1.8" fill="#f26a0c" stroke="#8a4a20" stroke-width="0.6"/>
<circle cx="438.8" cy="157.9" r="1.8" fill="#f26a0c" stroke="#8a4a20" stroke-width="0.6"/>
<circle cx="453.2" cy="157.2" r="1.8" fill="#f26a0c" stroke="#8a4a20" stroke-width="0.6"/>
<circle cx="462.9" cy="158.7" r="1.8" fill="#f26a0c" stroke="#8a4a20" stroke-width="0.6"/>
<circle cx="464.1" cy="162.0" r="1.8" fill="#f26a0c" stroke="#8a4a20" stroke-width="0.6"/>
<circle cx="460.6" cy="165.2" r="1.8" fill="#f26a0c" stroke="#8a4a20" stroke-width="0.6"/>
<circle cx="462.9" cy="164.7" r="1.8" fill="#f26a0c" stroke="#8a4a20" stroke-width="0.6"/>
<circle cx="453.0" cy="166.2" r="1.8" fill="#f26a0c" stroke="#8a4a20" stroke-width="0.6"/>
<circle cx="439.1" cy="169.9" r="1.8" fill="#f26a0c" stroke="#8a4a20" stroke-width="0.6"/>
<circle cx="442.2" cy="171.9" r="1.8" fill="#f26a0c" stroke="#8a4a20" stroke-width="0.6"/>
<circle cx="438.0" cy="173.8" r="1.8" fill="#f26a0c" stroke="#8a4a20" stroke-width="0.6"/>
<circle cx="450.5" cy="170.5" r="1.8" fill="#f26a0c" stroke="#8a4a20" stroke-width="0.6"/>
<circle cx="455.6" cy="169.3" r="1.8" fill="#f26a0c" stroke="#8a4a20" stroke-width="0.6"/>
<circle cx="452.9" cy="172.2" r="1.8" fill="#f26a0c" stroke="#8a4a20" stroke-width="0.6"/>
<circle cx="456.7" cy="171.6" r="1.8" fill="#f26a0c" stroke="#8a4a20" stroke-width="0.6"/>
<circle cx="460.6" cy="170.1" r="1.8" fill="#f26a0c" stroke="#8a4a20" stroke-width="0.6"/>
<circle cx="458.3" cy="173.6" r="1.8" fill="#f26a0c" stroke="#8a4a20" stroke-width="0.6"/>
<circle cx="462.9" cy="173.2" r="1.8" fill="#f26a0c" stroke="#8a4a20" stroke-width="0.6"/>
<circle cx="445.5" cy="175.0" r="1.8" fill="#f26a0c" stroke="#8a4a20" stroke-width="0.6"/>
<circle cx="448.6" cy="175.1" r="1.8" fill="#f26a0c" stroke="#8a4a20" stroke-width="0.6"/>
<circle cx="452.5" cy="174.7" r="1.8" fill="#f26a0c" stroke="#8a4a20" stroke-width="0.6"/>
<circle cx="457.1" cy="175.9" r="1.8" fill="#f26a0c" stroke="#8a4a20" stroke-width="0.6"/>
<circle cx="461.0" cy="175.5" r="1.8" fill="#f26a0c" stroke="#8a4a20" stroke-width="0.6"/>
<circle cx="455.6" cy="177.8" r="1.8" fill="#f26a0c" stroke="#8a4a20" stroke-width="0.6"/>
<circle cx="461.4" cy="178.2" r="1.8" fill="#f26a0c" stroke="#8a4a20" stroke-width="0.6"/>
<circle cx="463.7" cy="179.0" r="1.8" fill="#f26a0c" stroke="#8a4a20" stroke-width="0.6"/>
<circle cx="440.5" cy="181.7" r="1.8" fill="#f26a0c" stroke="#8a4a20" stroke-width="0.6"/>
<circle cx="447.0" cy="181.3" r="1.8" fill="#f26a0c" stroke="#8a4a20" stroke-width="0.6"/>
<circle cx="450.5" cy="183.0" r="1.8" fill="#f26a0c" stroke="#8a4a20" stroke-width="0.6"/>
<circle cx="456.3" cy="181.7" r="1.8" fill="#f26a0c" stroke="#8a4a20" stroke-width="0.6"/>
<circle cx="439.7" cy="184.4" r="1.8" fill="#f26a0c" stroke="#8a4a20" stroke-width="0.6"/>
<circle cx="444.0" cy="184.0" r="1.8" fill="#f26a0c" stroke="#8a4a20" stroke-width="0.6"/>
<circle cx="448.2" cy="185.2" r="1.8" fill="#f26a0c" stroke="#8a4a20" stroke-width="0.6"/>
<circle cx="454.8" cy="185.2" r="1.8" fill="#f26a0c" stroke="#8a4a20" stroke-width="0.6"/>
<circle cx="459.8" cy="184.2" r="1.8" fill="#f26a0c" stroke="#8a4a20" stroke-width="0.6"/>
<circle cx="463.7" cy="185.2" r="1.8" fill="#f26a0c" stroke="#8a4a20" stroke-width="0.6"/>
<circle cx="440.5" cy="187.5" r="1.8" fill="#f26a0c" stroke="#8a4a20" stroke-width="0.6"/>
<circle cx="442.8" cy="188.3" r="1.8" fill="#f26a0c" stroke="#8a4a20" stroke-width="0.6"/>
<circle cx="445.9" cy="187.5" r="1.8" fill="#f26a0c" stroke="#8a4a20" stroke-width="0.6"/>
<circle cx="432.0" cy="187.1" r="1.8" fill="#f26a0c" stroke="#8a4a20" stroke-width="0.6"/>
<circle cx="430.4" cy="187.5" r="1.8" fill="#f26a0c" stroke="#8a4a20" stroke-width="0.6"/>
<circle cx="459.4" cy="189.0" r="1.8" fill="#f26a0c" stroke="#8a4a20" stroke-width="0.6"/>
<circle cx="451.7" cy="191.0" r="1.8" fill="#f26a0c" stroke="#8a4a20" stroke-width="0.6"/>
<circle cx="435.1" cy="192.0" r="1.8" fill="#f26a0c" stroke="#8a4a20" stroke-width="0.6"/>
<circle cx="463.7" cy="190.6" r="1.8" fill="#f26a0c" stroke="#8a4a20" stroke-width="0.6"/>
<circle cx="466.3" cy="155.8" r="1.8" fill="#f26a0c" stroke="#8a4a20" stroke-width="0.6"/>
<circle cx="467.4" cy="158.9" r="1.8" fill="#f26a0c" stroke="#8a4a20" stroke-width="0.6"/>
<circle cx="470.5" cy="159.3" r="1.8" fill="#f26a0c" stroke="#8a4a20" stroke-width="0.6"/>
<circle cx="475.0" cy="158.7" r="1.8" fill="#f26a0c" stroke="#8a4a20" stroke-width="0.6"/>
<circle cx="474.0" cy="163.1" r="1.8" fill="#f26a0c" stroke="#8a4a20" stroke-width="0.6"/>
<circle cx="478.6" cy="163.7" r="1.8" fill="#f26a0c" stroke="#8a4a20" stroke-width="0.6"/>
<circle cx="482.9" cy="161.2" r="1.8" fill="#f26a0c" stroke="#8a4a20" stroke-width="0.6"/>
<circle cx="485.2" cy="162.7" r="1.8" fill="#f26a0c" stroke="#8a4a20" stroke-width="0.6"/>
<circle cx="488.3" cy="162.7" r="1.8" fill="#f26a0c" stroke="#8a4a20" stroke-width="0.6"/>
<circle cx="488.3" cy="165.8" r="1.8" fill="#f26a0c" stroke="#8a4a20" stroke-width="0.6"/>
<circle cx="493.0" cy="157.3" r="1.8" fill="#f26a0c" stroke="#8a4a20" stroke-width="0.6"/>
<circle cx="492.2" cy="160.4" r="1.8" fill="#f26a0c" stroke="#8a4a20" stroke-width="0.6"/>
<circle cx="493.7" cy="161.6" r="1.8" fill="#f26a0c" stroke="#8a4a20" stroke-width="0.6"/>
<circle cx="498.4" cy="159.6" r="1.8" fill="#f26a0c" stroke="#8a4a20" stroke-width="0.6"/>
<circle cx="500.7" cy="156.5" r="1.8" fill="#f26a0c" stroke="#8a4a20" stroke-width="0.6"/>
<circle cx="494.1" cy="165.4" r="1.8" fill="#f26a0c" stroke="#8a4a20" stroke-width="0.6"/>
<circle cx="469.0" cy="165.8" r="1.8" fill="#f26a0c" stroke="#8a4a20" stroke-width="0.6"/>
<circle cx="466.6" cy="167.4" r="1.8" fill="#f26a0c" stroke="#8a4a20" stroke-width="0.6"/>
<circle cx="470.5" cy="168.2" r="1.8" fill="#f26a0c" stroke="#8a4a20" stroke-width="0.6"/>
<circle cx="474.4" cy="167.0" r="1.8" fill="#f26a0c" stroke="#8a4a20" stroke-width="0.6"/>
<circle cx="481.3" cy="166.6" r="1.8" fill="#f26a0c" stroke="#8a4a20" stroke-width="0.6"/>
<circle cx="467.0" cy="169.7" r="1.8" fill="#f26a0c" stroke="#8a4a20" stroke-width="0.6"/>
<circle cx="469.7" cy="170.1" r="1.8" fill="#f26a0c" stroke="#8a4a20" stroke-width="0.6"/>
<circle cx="474.0" cy="170.5" r="1.8" fill="#f26a0c" stroke="#8a4a20" stroke-width="0.6"/>
<circle cx="480.6" cy="170.1" r="1.8" fill="#f26a0c" stroke="#8a4a20" stroke-width="0.6"/>
<circle cx="480.2" cy="172.4" r="1.8" fill="#f26a0c" stroke="#8a4a20" stroke-width="0.6"/>
<circle cx="485.6" cy="170.1" r="1.8" fill="#f26a0c" stroke="#8a4a20" stroke-width="0.6"/>
<circle cx="490.6" cy="170.1" r="1.8" fill="#f26a0c" stroke="#8a4a20" stroke-width="0.6"/>
<circle cx="467.8" cy="172.8" r="1.8" fill="#f26a0c" stroke="#8a4a20" stroke-width="0.6"/>
<circle cx="471.3" cy="173.2" r="1.8" fill="#f26a0c" stroke="#8a4a20" stroke-width="0.6"/>
<circle cx="489.1" cy="173.2" r="1.8" fill="#f26a0c" stroke="#8a4a20" stroke-width="0.6"/>
<circle cx="496.0" cy="172.4" r="1.8" fill="#f26a0c" stroke="#8a4a20" stroke-width="0.6"/>
<circle cx="498.8" cy="169.3" r="1.8" fill="#f26a0c" stroke="#8a4a20" stroke-width="0.6"/>
<circle cx="477.5" cy="176.3" r="1.8" fill="#f26a0c" stroke="#8a4a20" stroke-width="0.6"/>
<circle cx="487.1" cy="175.9" r="1.8" fill="#f26a0c" stroke="#8a4a20" stroke-width="0.6"/>
<circle cx="467.8" cy="177.4" r="1.8" fill="#f26a0c" stroke="#8a4a20" stroke-width="0.6"/>
<circle cx="481.3" cy="177.8" r="1.8" fill="#f26a0c" stroke="#8a4a20" stroke-width="0.6"/>
<circle cx="489.1" cy="179.0" r="1.8" fill="#f26a0c" stroke="#8a4a20" stroke-width="0.6"/>
<circle cx="494.9" cy="180.9" r="1.8" fill="#f26a0c" stroke="#8a4a20" stroke-width="0.6"/>
<circle cx="465.1" cy="180.1" r="1.8" fill="#f26a0c" stroke="#8a4a20" stroke-width="0.6"/>
<circle cx="472.8" cy="179.8" r="1.8" fill="#f26a0c" stroke="#8a4a20" stroke-width="0.6"/>
<circle cx="479.4" cy="179.8" r="1.8" fill="#f26a0c" stroke="#8a4a20" stroke-width="0.6"/>
<circle cx="475.5" cy="181.7" r="1.8" fill="#f26a0c" stroke="#8a4a20" stroke-width="0.6"/>
<circle cx="462.8" cy="182.9" r="1.8" fill="#f26a0c" stroke="#8a4a20" stroke-width="0.6"/>
<circle cx="466.6" cy="182.9" r="1.8" fill="#f26a0c" stroke="#8a4a20" stroke-width="0.6"/>
<circle cx="469.7" cy="182.5" r="1.8" fill="#f26a0c" stroke="#8a4a20" stroke-width="0.6"/>
<circle cx="478.2" cy="182.5" r="1.8" fill="#f26a0c" stroke="#8a4a20" stroke-width="0.6"/>
<circle cx="482.9" cy="182.5" r="1.8" fill="#f26a0c" stroke="#8a4a20" stroke-width="0.6"/>
<circle cx="471.3" cy="185.2" r="1.8" fill="#f26a0c" stroke="#8a4a20" stroke-width="0.6"/>
<circle cx="474.4" cy="184.8" r="1.8" fill="#f26a0c" stroke="#8a4a20" stroke-width="0.6"/>
<circle cx="483.3" cy="185.2" r="1.8" fill="#f26a0c" stroke="#8a4a20" stroke-width="0.6"/>
<circle cx="478.2" cy="186.3" r="1.8" fill="#f26a0c" stroke="#8a4a20" stroke-width="0.6"/>
<circle cx="464.7" cy="188.3" r="1.8" fill="#f26a0c" stroke="#8a4a20" stroke-width="0.6"/>
<circle cx="467.4" cy="188.7" r="1.8" fill="#f26a0c" stroke="#8a4a20" stroke-width="0.6"/>
<circle cx="469.7" cy="189.0" r="1.8" fill="#f26a0c" stroke="#8a4a20" stroke-width="0.6"/>
<circle cx="484.1" cy="189.8" r="1.8" fill="#f26a0c" stroke="#8a4a20" stroke-width="0.6"/>
<circle cx="513.2" cy="158.6" r="1.8" fill="#f26a0c" stroke="#8a4a20" stroke-width="0.6"/>
<circle cx="451.8" cy="135.9" r="1.8" fill="#f26a0c" stroke="#8a4a20" stroke-width="0.6"/>
<circle cx="464.8" cy="137.0" r="1.8" fill="#f26a0c" stroke="#8a4a20" stroke-width="0.6"/>
<circle cx="469.0" cy="136.1" r="1.8" fill="#f26a0c" stroke="#8a4a20" stroke-width="0.6"/>
<circle cx="479.5" cy="135.9" r="1.8" fill="#f26a0c" stroke="#8a4a20" stroke-width="0.6"/>
<circle cx="460.5" cy="142.3" r="1.8" fill="#f26a0c" stroke="#8a4a20" stroke-width="0.6"/>
<circle cx="470.7" cy="142.3" r="1.8" fill="#f26a0c" stroke="#8a4a20" stroke-width="0.6"/>
<circle cx="475.6" cy="141.3" r="1.8" fill="#f26a0c" stroke="#8a4a20" stroke-width="0.6"/>
<circle cx="469.0" cy="148.8" r="1.8" fill="#f26a0c" stroke="#8a4a20" stroke-width="0.6"/>
<circle cx="471.6" cy="148.2" r="1.8" fill="#f26a0c" stroke="#8a4a20" stroke-width="0.6"/>
<circle cx="463.2" cy="150.6" r="1.8" fill="#f26a0c" stroke="#8a4a20" stroke-width="0.6"/>
<circle cx="465.9" cy="151.6" r="1.8" fill="#f26a0c" stroke="#8a4a20" stroke-width="0.6"/>
<circle cx="461.7" cy="152.9" r="1.8" fill="#f26a0c" stroke="#8a4a20" stroke-width="0.6"/>
<circle cx="468.6" cy="153.1" r="1.8" fill="#f26a0c" stroke="#8a4a20" stroke-width="0.6"/>
<circle cx="481.8" cy="131.8" r="1.8" fill="#f26a0c" stroke="#8a4a20" stroke-width="0.6"/>
<circle cx="489.9" cy="133.9" r="1.8" fill="#f26a0c" stroke="#8a4a20" stroke-width="0.6"/>
<circle cx="482.0" cy="137.2" r="1.8" fill="#f26a0c" stroke="#8a4a20" stroke-width="0.6"/>
<circle cx="482.6" cy="143.8" r="1.8" fill="#f26a0c" stroke="#8a4a20" stroke-width="0.6"/>
<circle cx="498.8" cy="145.5" r="1.8" fill="#f26a0c" stroke="#8a4a20" stroke-width="0.6"/>
<circle cx="489.5" cy="146.6" r="1.8" fill="#f26a0c" stroke="#8a4a20" stroke-width="0.6"/>
<circle cx="493.4" cy="146.6" r="1.8" fill="#f26a0c" stroke="#8a4a20" stroke-width="0.6"/>
<circle cx="484.9" cy="149.3" r="1.8" fill="#f26a0c" stroke="#8a4a20" stroke-width="0.6"/>
<circle cx="486.1" cy="151.6" r="1.8" fill="#f26a0c" stroke="#8a4a20" stroke-width="0.6"/>
<circle cx="487.6" cy="154.0" r="1.8" fill="#f26a0c" stroke="#8a4a20" stroke-width="0.6"/>
<circle cx="497.7" cy="154.7" r="1.8" fill="#f26a0c" stroke="#8a4a20" stroke-width="0.6"/>
<text x="482.70" y="21.80" font-size="12" fill="#2b2b9e" text-anchor="middle" font-weight="normal" textLength="62" lengthAdjust="spacingAndGlyphs" >rho = 0.592</text>
<text x="482.70" y="38.80" font-size="12" fill="#2b2b9e" text-anchor="middle" font-weight="normal" textLength="117" lengthAdjust="spacingAndGlyphs" >95% CI: 0.504 - 0.667</text>
<text x="482.70" y="55.80" font-size="12" fill="#2b2b9e" text-anchor="middle" font-weight="normal" textLength="51" lengthAdjust="spacingAndGlyphs" >p&lt;0.0001</text>
<text x="678.40" y="30.20" font-size="23" fill="#000" text-anchor="middle" font-weight="bold" stroke="#000" stroke-width="0.25" >b</text>
<line x1="419.50" y1="268.40" x2="419.50" y2="466.00" stroke="#333" stroke-width="1.3" />
<line x1="419.50" y1="466.00" x2="674.20" y2="466.00" stroke="#333" stroke-width="1.3" />
<line x1="419.50" y1="460.20" x2="425.30" y2="460.20" stroke="#777" stroke-width="1.2" />
<text x="413.00" y="465.20" font-size="12" fill="#111" text-anchor="end" font-weight="bold" stroke="#111" stroke-width="0.25" >0</text>
<line x1="419.50" y1="448.62" x2="422.50" y2="448.62" stroke="#aaa" stroke-width="1" />
<line x1="419.50" y1="437.04" x2="425.30" y2="437.04" stroke="#777" stroke-width="1.2" />
<text x="413.00" y="442.04" font-size="12" fill="#111" text-anchor="end" font-weight="bold" stroke="#111" stroke-width="0.25" >20</text>
<line x1="419.50" y1="425.46" x2="422.50" y2="425.46" stroke="#aaa" stroke-width="1" />
<line x1="419.50" y1="413.88" x2="425.30" y2="413.88" stroke="#777" stroke-width="1.2" />
<text x="413.00" y="418.88" font-size="12" fill="#111" text-anchor="end" font-weight="bold" stroke="#111" stroke-width="0.25" >40</text>
<line x1="419.50" y1="402.29" x2="422.50" y2="402.29" stroke="#aaa" stroke-width="1" />
<line x1="419.50" y1="390.71" x2="425.30" y2="390.71" stroke="#777" stroke-width="1.2" />
<text x="413.00" y="395.71" font-size="12" fill="#111" text-anchor="end" font-weight="bold" stroke="#111" stroke-width="0.25" >60</text>
<line x1="419.50" y1="379.13" x2="422.50" y2="379.13" stroke="#aaa" stroke-width="1" />
<line x1="419.50" y1="367.55" x2="425.30" y2="367.55" stroke="#777" stroke-width="1.2" />
<text x="413.00" y="372.55" font-size="12" fill="#111" text-anchor="end" font-weight="bold" stroke="#111" stroke-width="0.25" >80</text>
<line x1="419.50" y1="355.97" x2="422.50" y2="355.97" stroke="#aaa" stroke-width="1" />
<line x1="419.50" y1="344.39" x2="425.30" y2="344.39" stroke="#777" stroke-width="1.2" />
<text x="413.00" y="349.39" font-size="12" fill="#111" text-anchor="end" font-weight="bold" stroke="#111" stroke-width="0.25" >100</text>
<line x1="419.50" y1="332.81" x2="422.50" y2="332.81" stroke="#aaa" stroke-width="1" />
<line x1="419.50" y1="321.22" x2="425.30" y2="321.22" stroke="#777" stroke-width="1.2" />
<text x="413.00" y="326.22" font-size="12" fill="#111" text-anchor="end" font-weight="bold" stroke="#111" stroke-width="0.25" >120</text>
<line x1="419.50" y1="309.64" x2="422.50" y2="309.64" stroke="#aaa" stroke-width="1" />
<line x1="419.50" y1="298.06" x2="425.30" y2="298.06" stroke="#777" stroke-width="1.2" />
<text x="413.00" y="303.06" font-size="12" fill="#111" text-anchor="end" font-weight="bold" stroke="#111" stroke-width="0.25" >140</text>
<line x1="419.50" y1="286.48" x2="422.50" y2="286.48" stroke="#aaa" stroke-width="1" />
<line x1="419.50" y1="274.90" x2="425.30" y2="274.90" stroke="#777" stroke-width="1.2" />
<text x="413.00" y="279.90" font-size="12" fill="#111" text-anchor="end" font-weight="bold" stroke="#111" stroke-width="0.25" >160</text>
<line x1="425.80" y1="466.00" x2="425.80" y2="461.00" stroke="#555" stroke-width="1.2" />
<text x="425.80" y="484.30" font-size="12" fill="#111" text-anchor="middle" font-weight="bold" stroke="#111" stroke-width="0.25" >0</text>
<line x1="466.12" y1="466.00" x2="466.12" y2="461.00" stroke="#555" stroke-width="1.2" />
<text x="466.12" y="484.30" font-size="12" fill="#111" text-anchor="middle" font-weight="bold" stroke="#111" stroke-width="0.25" >50</text>
<line x1="506.43" y1="466.00" x2="506.43" y2="461.00" stroke="#555" stroke-width="1.2" />
<text x="506.43" y="484.30" font-size="12" fill="#111" text-anchor="middle" font-weight="bold" stroke="#111" stroke-width="0.25" >100</text>
<line x1="546.75" y1="466.00" x2="546.75" y2="461.00" stroke="#555" stroke-width="1.2" />
<text x="546.75" y="484.30" font-size="12" fill="#111" text-anchor="middle" font-weight="bold" stroke="#111" stroke-width="0.25" >150</text>
<line x1="587.07" y1="466.00" x2="587.07" y2="461.00" stroke="#555" stroke-width="1.2" />
<text x="587.07" y="484.30" font-size="12" fill="#111" text-anchor="middle" font-weight="bold" stroke="#111" stroke-width="0.25" >200</text>
<line x1="627.38" y1="466.00" x2="627.38" y2="461.00" stroke="#555" stroke-width="1.2" />
<text x="627.38" y="484.30" font-size="12" fill="#111" text-anchor="middle" font-weight="bold" stroke="#111" stroke-width="0.25" >250</text>
<line x1="667.70" y1="466.00" x2="667.70" y2="461.00" stroke="#555" stroke-width="1.2" />
<text x="667.70" y="484.30" font-size="12" fill="#111" text-anchor="middle" font-weight="bold" stroke="#111" stroke-width="0.25" >300</text>
<text x="0" y="0" transform="translate(372.40,365.70) rotate(-90)" font-size="12" fill="#111" text-anchor="middle" font-weight="bold" textLength="79.8" lengthAdjust="spacingAndGlyphs">sCD8 [ng/mL]</text>
<text x="548.30" y="506.10" font-size="12" fill="#111" text-anchor="middle" font-weight="bold" textLength="55.6" lengthAdjust="spacingAndGlyphs" stroke="#111" stroke-width="0.25" >NEO [nM]</text>
<circle cx="498.5" cy="288.8" r="1.85" fill="#f4ac68" stroke="#6a5040" stroke-width="0.6"/>
<circle cx="486.4" cy="328.3" r="1.85" fill="#f4ac68" stroke="#6a5040" stroke-width="0.6"/>
<circle cx="470.2" cy="332.4" r="1.85" fill="#f4ac68" stroke="#6a5040" stroke-width="0.6"/>
<circle cx="470.2" cy="339.9" r="1.85" fill="#f4ac68" stroke="#6a5040" stroke-width="0.6"/>
<circle cx="473.2" cy="339.9" r="1.85" fill="#f4ac68" stroke="#6a5040" stroke-width="0.6"/>
<circle cx="483.4" cy="368.2" r="1.85" fill="#f4ac68" stroke="#6a5040" stroke-width="0.6"/>
<circle cx="498.0" cy="384.4" r="1.85" fill="#f4ac68" stroke="#6a5040" stroke-width="0.6"/>
<circle cx="491.0" cy="395.3" r="1.85" fill="#f4ac68" stroke="#6a5040" stroke-width="0.6"/>
<circle cx="528.9" cy="395.3" r="1.85" fill="#f4ac68" stroke="#6a5040" stroke-width="0.6"/>
<circle cx="450.8" cy="403.0" r="1.85" fill="#f4ac68" stroke="#6a5040" stroke-width="0.6"/>
<circle cx="469.8" cy="401.0" r="1.85" fill="#f4ac68" stroke="#6a5040" stroke-width="0.6"/>
<circle cx="448.2" cy="410.1" r="1.85" fill="#f4ac68" stroke="#6a5040" stroke-width="0.6"/>
<circle cx="461.8" cy="410.3" r="1.85" fill="#f4ac68" stroke="#6a5040" stroke-width="0.6"/>
<circle cx="473.2" cy="413.0" r="1.85" fill="#f4ac68" stroke="#6a5040" stroke-width="0.6"/>
<circle cx="472.7" cy="414.5" r="1.85" fill="#f4ac68" stroke="#6a5040" stroke-width="0.6"/>
<circle cx="475.8" cy="416.1" r="1.85" fill="#f4ac68" stroke="#6a5040" stroke-width="0.6"/>
<circle cx="475.4" cy="418.0" r="1.85" fill="#f4ac68" stroke="#6a5040" stroke-width="0.6"/>
<circle cx="459.2" cy="419.3" r="1.85" fill="#f4ac68" stroke="#6a5040" stroke-width="0.6"/>
<circle cx="468.2" cy="418.5" r="1.85" fill="#f4ac68" stroke="#6a5040" stroke-width="0.6"/>
<circle cx="477.1" cy="427.2" r="1.85" fill="#f4ac68" stroke="#6a5040" stroke-width="0.6"/>
<circle cx="484.6" cy="428.5" r="1.85" fill="#f4ac68" stroke="#6a5040" stroke-width="0.6"/>
<circle cx="506.6" cy="402.3" r="1.85" fill="#f4ac68" stroke="#6a5040" stroke-width="0.6"/>
<circle cx="488.2" cy="408.0" r="1.85" fill="#f4ac68" stroke="#6a5040" stroke-width="0.6"/>
<circle cx="492.5" cy="412.2" r="1.85" fill="#f4ac68" stroke="#6a5040" stroke-width="0.6"/>
<circle cx="500.8" cy="411.1" r="1.85" fill="#f4ac68" stroke="#6a5040" stroke-width="0.6"/>
<circle cx="503.0" cy="410.8" r="1.85" fill="#f4ac68" stroke="#6a5040" stroke-width="0.6"/>
<circle cx="505.2" cy="410.8" r="1.85" fill="#f4ac68" stroke="#6a5040" stroke-width="0.6"/>
<circle cx="507.6" cy="412.9" r="1.85" fill="#f4ac68" stroke="#6a5040" stroke-width="0.6"/>
<circle cx="498.8" cy="415.2" r="1.85" fill="#f4ac68" stroke="#6a5040" stroke-width="0.6"/>
<circle cx="497.7" cy="417.8" r="1.85" fill="#f4ac68" stroke="#6a5040" stroke-width="0.6"/>
<circle cx="506.6" cy="418.1" r="1.85" fill="#f4ac68" stroke="#6a5040" stroke-width="0.6"/>
<circle cx="488.1" cy="420.9" r="1.85" fill="#f4ac68" stroke="#6a5040" stroke-width="0.6"/>
<circle cx="486.3" cy="422.2" r="1.85" fill="#f4ac68" stroke="#6a5040" stroke-width="0.6"/>
<circle cx="494.0" cy="422.9" r="1.85" fill="#f4ac68" stroke="#6a5040" stroke-width="0.6"/>
<circle cx="503.2" cy="420.9" r="1.85" fill="#f4ac68" stroke="#6a5040" stroke-width="0.6"/>
<circle cx="512.2" cy="422.2" r="1.85" fill="#f4ac68" stroke="#6a5040" stroke-width="0.6"/>
<circle cx="516.4" cy="419.6" r="1.85" fill="#f4ac68" stroke="#6a5040" stroke-width="0.6"/>
<circle cx="518.7" cy="420.9" r="1.85" fill="#f4ac68" stroke="#6a5040" stroke-width="0.6"/>
<circle cx="560.7" cy="410.8" r="1.85" fill="#f4ac68" stroke="#6a5040" stroke-width="0.6"/>
<circle cx="459.9" cy="434.6" r="1.85" fill="#f4ac68" stroke="#6a5040" stroke-width="0.6"/>
<circle cx="461.8" cy="437.2" r="1.85" fill="#f4ac68" stroke="#6a5040" stroke-width="0.6"/>
<circle cx="461.8" cy="440.2" r="1.85" fill="#f4ac68" stroke="#6a5040" stroke-width="0.6"/>
<circle cx="450.3" cy="440.2" r="1.85" fill="#f4ac68" stroke="#6a5040" stroke-width="0.6"/>
<circle cx="438.8" cy="446.4" r="1.85" fill="#f4ac68" stroke="#6a5040" stroke-width="0.6"/>
<circle cx="437.8" cy="450.0" r="1.85" fill="#f4ac68" stroke="#6a5040" stroke-width="0.6"/>
<circle cx="445.1" cy="445.8" r="1.85" fill="#f4ac68" stroke="#6a5040" stroke-width="0.6"/>
<circle cx="446.1" cy="448.4" r="1.85" fill="#f4ac68" stroke="#6a5040" stroke-width="0.6"/>
<circle cx="453.0" cy="445.8" r="1.85" fill="#f4ac68" stroke="#6a5040" stroke-width="0.6"/>
<circle cx="458.9" cy="446.1" r="1.85" fill="#f4ac68" stroke="#6a5040" stroke-width="0.6"/>
<circle cx="462.8" cy="446.4" r="1.85" fill="#f4ac68" stroke="#6a5040" stroke-width="0.6"/>
<circle cx="460.9" cy="443.1" r="1.85" fill="#f4ac68" stroke="#6a5040" stroke-width="0.6"/>
<circle cx="450.0" cy="448.7" r="1.85" fill="#f4ac68" stroke="#6a5040" stroke-width="0.6"/>
<circle cx="452.0" cy="450.0" r="1.85" fill="#f4ac68" stroke="#6a5040" stroke-width="0.6"/>
<circle cx="457.2" cy="449.7" r="1.85" fill="#f4ac68" stroke="#6a5040" stroke-width="0.6"/>
<circle cx="460.9" cy="449.1" r="1.85" fill="#f4ac68" stroke="#6a5040" stroke-width="0.6"/>
<circle cx="448.0" cy="451.7" r="1.85" fill="#f4ac68" stroke="#6a5040" stroke-width="0.6"/>
<circle cx="444.7" cy="453.7" r="1.85" fill="#f4ac68" stroke="#6a5040" stroke-width="0.6"/>
<circle cx="447.7" cy="455.0" r="1.85" fill="#f4ac68" stroke="#6a5040" stroke-width="0.6"/>
<circle cx="451.0" cy="454.0" r="1.85" fill="#f4ac68" stroke="#6a5040" stroke-width="0.6"/>
<circle cx="453.3" cy="453.0" r="1.85" fill="#f4ac68" stroke="#6a5040" stroke-width="0.6"/>
<circle cx="454.9" cy="456.9" r="1.85" fill="#f4ac68" stroke="#6a5040" stroke-width="0.6"/>
<circle cx="459.2" cy="453.7" r="1.85" fill="#f4ac68" stroke="#6a5040" stroke-width="0.6"/>
<circle cx="462.8" cy="451.7" r="1.85" fill="#f4ac68" stroke="#6a5040" stroke-width="0.6"/>
<circle cx="441.4" cy="457.3" r="1.85" fill="#f4ac68" stroke="#6a5040" stroke-width="0.6"/>
<circle cx="446.7" cy="456.3" r="1.85" fill="#f4ac68" stroke="#6a5040" stroke-width="0.6"/>
<circle cx="460.2" cy="457.3" r="1.85" fill="#f4ac68" stroke="#6a5040" stroke-width="0.6"/>
<circle cx="463.8" cy="455.0" r="1.85" fill="#f4ac68" stroke="#6a5040" stroke-width="0.6"/>
<circle cx="464.5" cy="438.5" r="1.85" fill="#f4ac68" stroke="#6a5040" stroke-width="0.6"/>
<circle cx="490.6" cy="431.9" r="1.85" fill="#f4ac68" stroke="#6a5040" stroke-width="0.6"/>
<circle cx="472.5" cy="433.3" r="1.85" fill="#f4ac68" stroke="#6a5040" stroke-width="0.6"/>
<circle cx="474.8" cy="434.9" r="1.85" fill="#f4ac68" stroke="#6a5040" stroke-width="0.6"/>
<circle cx="478.4" cy="433.9" r="1.85" fill="#f4ac68" stroke="#6a5040" stroke-width="0.6"/>
<circle cx="483.4" cy="433.8" r="1.85" fill="#f4ac68" stroke="#6a5040" stroke-width="0.6"/>
<circle cx="476.5" cy="437.2" r="1.85" fill="#f4ac68" stroke="#6a5040" stroke-width="0.6"/>
<circle cx="492.6" cy="435.9" r="1.85" fill="#f4ac68" stroke="#6a5040" stroke-width="0.6"/>
<circle cx="490.0" cy="437.2" r="1.85" fill="#f4ac68" stroke="#6a5040" stroke-width="0.6"/>
<circle cx="498.5" cy="435.6" r="1.85" fill="#f4ac68" stroke="#6a5040" stroke-width="0.6"/>
<circle cx="498.5" cy="438.5" r="1.85" fill="#f4ac68" stroke="#6a5040" stroke-width="0.6"/>
<circle cx="482.4" cy="439.2" r="1.85" fill="#f4ac68" stroke="#6a5040" stroke-width="0.6"/>
<circle cx="468.3" cy="438.5" r="1.85" fill="#f4ac68" stroke="#6a5040" stroke-width="0.6"/>
<circle cx="488.3" cy="441.5" r="1.85" fill="#f4ac68" stroke="#6a5040" stroke-width="0.6"/>
<circle cx="476.1" cy="441.8" r="1.85" fill="#f4ac68" stroke="#6a5040" stroke-width="0.6"/>
<circle cx="466.0" cy="443.1" r="1.85" fill="#f4ac68" stroke="#6a5040" stroke-width="0.6"/>
<circle cx="469.9" cy="443.1" r="1.85" fill="#f4ac68" stroke="#6a5040" stroke-width="0.6"/>
<circle cx="472.5" cy="444.1" r="1.85" fill="#f4ac68" stroke="#6a5040" stroke-width="0.6"/>
<circle cx="479.4" cy="443.8" r="1.85" fill="#f4ac68" stroke="#6a5040" stroke-width="0.6"/>
<circle cx="485.7" cy="443.8" r="1.85" fill="#f4ac68" stroke="#6a5040" stroke-width="0.6"/>
<circle cx="481.1" cy="445.8" r="1.85" fill="#f4ac68" stroke="#6a5040" stroke-width="0.6"/>
<circle cx="483.7" cy="445.1" r="1.85" fill="#f4ac68" stroke="#6a5040" stroke-width="0.6"/>
<circle cx="488.3" cy="446.1" r="1.85" fill="#f4ac68" stroke="#6a5040" stroke-width="0.6"/>
<circle cx="493.3" cy="445.1" r="1.85" fill="#f4ac68" stroke="#6a5040" stroke-width="0.6"/>
<circle cx="467.9" cy="445.4" r="1.85" fill="#f4ac68" stroke="#6a5040" stroke-width="0.6"/>
<circle cx="466.3" cy="447.7" r="1.85" fill="#f4ac68" stroke="#6a5040" stroke-width="0.6"/>
<circle cx="470.6" cy="448.1" r="1.85" fill="#f4ac68" stroke="#6a5040" stroke-width="0.6"/>
<circle cx="474.2" cy="447.4" r="1.85" fill="#f4ac68" stroke="#6a5040" stroke-width="0.6"/>
<circle cx="477.1" cy="448.4" r="1.85" fill="#f4ac68" stroke="#6a5040" stroke-width="0.6"/>
<circle cx="483.7" cy="447.7" r="1.85" fill="#f4ac68" stroke="#6a5040" stroke-width="0.6"/>
<circle cx="494.2" cy="448.1" r="1.85" fill="#f4ac68" stroke="#6a5040" stroke-width="0.6"/>
<circle cx="499.5" cy="447.7" r="1.85" fill="#f4ac68" stroke="#6a5040" stroke-width="0.6"/>
<circle cx="463.3" cy="450.4" r="1.85" fill="#f4ac68" stroke="#6a5040" stroke-width="0.6"/>
<circle cx="467.3" cy="450.7" r="1.85" fill="#f4ac68" stroke="#6a5040" stroke-width="0.6"/>
<circle cx="471.9" cy="450.7" r="1.85" fill="#f4ac68" stroke="#6a5040" stroke-width="0.6"/>
<circle cx="475.8" cy="450.4" r="1.85" fill="#f4ac68" stroke="#6a5040" stroke-width="0.6"/>
<circle cx="480.1" cy="450.7" r="1.85" fill="#f4ac68" stroke="#6a5040" stroke-width="0.6"/>
<circle cx="484.4" cy="451.0" r="1.85" fill="#f4ac68" stroke="#6a5040" stroke-width="0.6"/>
<circle cx="488.3" cy="450.4" r="1.85" fill="#f4ac68" stroke="#6a5040" stroke-width="0.6"/>
<circle cx="495.6" cy="450.7" r="1.85" fill="#f4ac68" stroke="#6a5040" stroke-width="0.6"/>
<circle cx="499.8" cy="451.4" r="1.85" fill="#f4ac68" stroke="#6a5040" stroke-width="0.6"/>
<circle cx="464.0" cy="453.7" r="1.85" fill="#f4ac68" stroke="#6a5040" stroke-width="0.6"/>
<circle cx="469.2" cy="453.3" r="1.85" fill="#f4ac68" stroke="#6a5040" stroke-width="0.6"/>
<circle cx="474.5" cy="453.0" r="1.85" fill="#f4ac68" stroke="#6a5040" stroke-width="0.6"/>
<circle cx="479.4" cy="453.7" r="1.85" fill="#f4ac68" stroke="#6a5040" stroke-width="0.6"/>
<circle cx="485.0" cy="453.0" r="1.85" fill="#f4ac68" stroke="#6a5040" stroke-width="0.6"/>
<circle cx="489.6" cy="453.7" r="1.85" fill="#f4ac68" stroke="#6a5040" stroke-width="0.6"/>
<circle cx="492.9" cy="453.0" r="1.85" fill="#f4ac68" stroke="#6a5040" stroke-width="0.6"/>
<circle cx="497.5" cy="453.7" r="1.85" fill="#f4ac68" stroke="#6a5040" stroke-width="0.6"/>
<circle cx="465.9" cy="456.3" r="1.85" fill="#f4ac68" stroke="#6a5040" stroke-width="0.6"/>
<circle cx="471.2" cy="455.6" r="1.85" fill="#f4ac68" stroke="#6a5040" stroke-width="0.6"/>
<circle cx="477.8" cy="456.3" r="1.85" fill="#f4ac68" stroke="#6a5040" stroke-width="0.6"/>
<circle cx="482.4" cy="456.6" r="1.85" fill="#f4ac68" stroke="#6a5040" stroke-width="0.6"/>
<circle cx="488.0" cy="456.9" r="1.85" fill="#f4ac68" stroke="#6a5040" stroke-width="0.6"/>
<circle cx="492.3" cy="455.6" r="1.85" fill="#f4ac68" stroke="#6a5040" stroke-width="0.6"/>
<circle cx="498.8" cy="455.6" r="1.85" fill="#f4ac68" stroke="#6a5040" stroke-width="0.6"/>
<circle cx="462.0" cy="456.9" r="1.85" fill="#f4ac68" stroke="#6a5040" stroke-width="0.6"/>
<circle cx="466.6" cy="457.9" r="1.85" fill="#f4ac68" stroke="#6a5040" stroke-width="0.6"/>
<circle cx="509.5" cy="433.3" r="1.85" fill="#f4ac68" stroke="#6a5040" stroke-width="0.6"/>
<circle cx="518.4" cy="436.9" r="1.85" fill="#f4ac68" stroke="#6a5040" stroke-width="0.6"/>
<circle cx="526.0" cy="436.4" r="1.85" fill="#f4ac68" stroke="#6a5040" stroke-width="0.6"/>
<circle cx="517.6" cy="439.8" r="1.85" fill="#f4ac68" stroke="#6a5040" stroke-width="0.6"/>
<circle cx="518.1" cy="442.8" r="1.85" fill="#f4ac68" stroke="#6a5040" stroke-width="0.6"/>
<circle cx="513.2" cy="444.8" r="1.85" fill="#f4ac68" stroke="#6a5040" stroke-width="0.6"/>
<circle cx="529.6" cy="443.0" r="1.85" fill="#f4ac68" stroke="#6a5040" stroke-width="0.6"/>
<circle cx="532.2" cy="444.8" r="1.85" fill="#f4ac68" stroke="#6a5040" stroke-width="0.6"/>
<circle cx="503.6" cy="449.4" r="1.85" fill="#f4ac68" stroke="#6a5040" stroke-width="0.6"/>
<circle cx="501.0" cy="447.7" r="1.85" fill="#f4ac68" stroke="#6a5040" stroke-width="0.6"/>
<circle cx="515.1" cy="449.4" r="1.85" fill="#f4ac68" stroke="#6a5040" stroke-width="0.6"/>
<circle cx="523.4" cy="448.4" r="1.85" fill="#f4ac68" stroke="#6a5040" stroke-width="0.6"/>
<circle cx="512.5" cy="451.4" r="1.85" fill="#f4ac68" stroke="#6a5040" stroke-width="0.6"/>
<circle cx="536.2" cy="451.0" r="1.85" fill="#f4ac68" stroke="#6a5040" stroke-width="0.6"/>
<circle cx="529.9" cy="451.7" r="1.85" fill="#f4ac68" stroke="#6a5040" stroke-width="0.6"/>
<circle cx="532.6" cy="452.9" r="1.85" fill="#f4ac68" stroke="#6a5040" stroke-width="0.6"/>
<circle cx="502.6" cy="453.7" r="1.85" fill="#f4ac68" stroke="#6a5040" stroke-width="0.6"/>
<circle cx="507.6" cy="453.7" r="1.85" fill="#f4ac68" stroke="#6a5040" stroke-width="0.6"/>
<circle cx="514.1" cy="454.0" r="1.85" fill="#f4ac68" stroke="#6a5040" stroke-width="0.6"/>
<circle cx="519.4" cy="453.3" r="1.85" fill="#f4ac68" stroke="#6a5040" stroke-width="0.6"/>
<circle cx="522.4" cy="453.3" r="1.85" fill="#f4ac68" stroke="#6a5040" stroke-width="0.6"/>
<circle cx="526.3" cy="453.7" r="1.85" fill="#f4ac68" stroke="#6a5040" stroke-width="0.6"/>
<circle cx="539.5" cy="455.0" r="1.85" fill="#f4ac68" stroke="#6a5040" stroke-width="0.6"/>
<circle cx="503.0" cy="456.6" r="1.85" fill="#f4ac68" stroke="#6a5040" stroke-width="0.6"/>
<circle cx="507.9" cy="455.6" r="1.85" fill="#f4ac68" stroke="#6a5040" stroke-width="0.6"/>
<circle cx="511.8" cy="457.3" r="1.85" fill="#f4ac68" stroke="#6a5040" stroke-width="0.6"/>
<circle cx="517.4" cy="456.9" r="1.85" fill="#f4ac68" stroke="#6a5040" stroke-width="0.6"/>
<circle cx="519.7" cy="456.9" r="1.85" fill="#f4ac68" stroke="#6a5040" stroke-width="0.6"/>
<circle cx="541.4" cy="441.9" r="1.85" fill="#f4ac68" stroke="#6a5040" stroke-width="0.6"/>
<circle cx="555.1" cy="442.9" r="1.85" fill="#f4ac68" stroke="#6a5040" stroke-width="0.6"/>
<circle cx="542.9" cy="449.3" r="1.85" fill="#f4ac68" stroke="#6a5040" stroke-width="0.6"/>
<circle cx="547.6" cy="449.3" r="1.85" fill="#f4ac68" stroke="#6a5040" stroke-width="0.6"/>
<circle cx="549.6" cy="447.8" r="1.85" fill="#f4ac68" stroke="#6a5040" stroke-width="0.6"/>
<circle cx="551.4" cy="450.7" r="1.85" fill="#f4ac68" stroke="#6a5040" stroke-width="0.6"/>
<circle cx="553.9" cy="450.9" r="1.85" fill="#f4ac68" stroke="#6a5040" stroke-width="0.6"/>
<circle cx="555.1" cy="454.2" r="1.85" fill="#f4ac68" stroke="#6a5040" stroke-width="0.6"/>
<circle cx="563.4" cy="451.9" r="1.85" fill="#f4ac68" stroke="#6a5040" stroke-width="0.6"/>
<circle cx="566.0" cy="456.5" r="1.85" fill="#f4ac68" stroke="#6a5040" stroke-width="0.6"/>
<circle cx="577.3" cy="444.6" r="1.85" fill="#f4ac68" stroke="#6a5040" stroke-width="0.6"/>
<circle cx="579.4" cy="457.1" r="1.85" fill="#f4ac68" stroke="#6a5040" stroke-width="0.6"/>
<circle cx="587.9" cy="440.0" r="1.85" fill="#f4ac68" stroke="#6a5040" stroke-width="0.6"/>
<circle cx="587.9" cy="443.1" r="1.85" fill="#f4ac68" stroke="#6a5040" stroke-width="0.6"/>
<circle cx="597.8" cy="447.8" r="1.85" fill="#f4ac68" stroke="#6a5040" stroke-width="0.6"/>
<circle cx="621.0" cy="423.1" r="1.85" fill="#f4ac68" stroke="#6a5040" stroke-width="0.6"/>
<circle cx="633.7" cy="452.7" r="1.85" fill="#f4ac68" stroke="#6a5040" stroke-width="0.6"/>
<circle cx="651.3" cy="445.8" r="1.85" fill="#f4ac68" stroke="#6a5040" stroke-width="0.6"/>
<circle cx="524.1" cy="426.0" r="1.85" fill="#f4ac68" stroke="#6a5040" stroke-width="0.6"/>
<text x="609.50" y="348.00" font-size="12" fill="#2b2b9e" text-anchor="middle" font-weight="normal" textLength="62" lengthAdjust="spacingAndGlyphs" >rho = 0.104</text>
<text x="609.50" y="364.35" font-size="12" fill="#2b2b9e" text-anchor="middle" font-weight="normal" textLength="120.6" lengthAdjust="spacingAndGlyphs" >95% CI: -0.020 - 0.225</text>
<text x="609.50" y="380.70" font-size="12" fill="#2b2b9e" text-anchor="middle" font-weight="normal" textLength="50.7" lengthAdjust="spacingAndGlyphs" >p = 0.100</text>
<text x="678.60" y="290.00" font-size="23" fill="#000" text-anchor="middle" font-weight="bold" stroke="#000" stroke-width="0.25" >d</text>
</svg></body></html>
